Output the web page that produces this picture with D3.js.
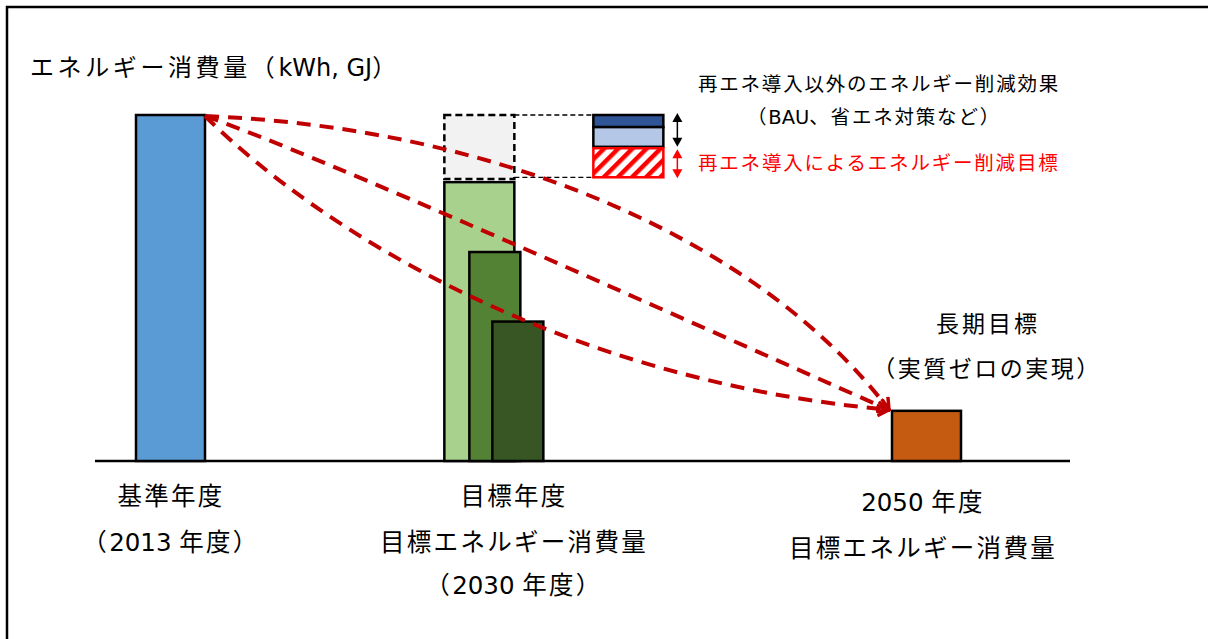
<!DOCTYPE html>
<html><head><meta charset="utf-8">
<script src="https://cdn.jsdelivr.net/npm/d3@7/dist/d3.min.js"></script>
<style>
html,body{margin:0;padding:0;background:#fff;}
svg text{font-family:"Noto Sans CJK JP","Noto Sans",sans-serif;}
</style></head>
<body>
<svg id="chart" width="1208" height="639"></svg>
<script>
// ---- data ----
const categories = ["基準年度", "目標年度", "2050 年度"];
const years = [2013, 2030, 2050];
const baseValue = [100];                     // 2013 energy consumption (index)
const target2030Values = [80.6, 60.4, 40.3]; // 2030 target scenarios
const target2050Value = [14.5];              // 2050 long term target
const otherReduction = [[100, 96.5], [96.5, 90.8]]; // BAU / energy saving
const renewableReduction = [[90.4, 82]];            // renewable reduction
const yAxisTitle = "エネルギー消費量（kWh, GJ）";
const labelLines = [
  ["基準年度", "（2013 年度）"],
  ["目標年度", "目標エネルギー消費量", "（2030 年度）"],
  ["2050 年度", "目標エネルギー消費量"]
];
const legendOther = ["再エネ導入以外のエネルギー削減効果", "（BAU、省エネ対策など）"];
const legendRenew = "再エネ導入によるエネルギー削減目標";
const longTerm = ["長期目標", "（実質ゼロの実現）"];

// ---- scales ----
const svg = d3.select("#chart");
const x = d3.scaleLinear().domain([2013, 2050]).range([170, 926]);
const y = d3.scaleLinear().domain([0, 100]).range([461, 115]);

// text helper: ASCII runs in a wide latin face, CJK with extra spacing
function txt(xp, yp, s, size, ls, anchor, col) {
  const t = svg.append("text").attr("x", xp).attr("y", yp).attr("font-size", size)
    .attr("text-anchor", anchor || "start").attr("fill", col || "#000")
    .attr("xml:space", "preserve");
  const runs = s.match(/[\x20-\x7E]+|[^\x20-\x7E]+/g);
  runs.forEach(r => {
    const ascii = /^[\x20-\x7E]+$/.test(r);
    t.append("tspan").text(r)
      .attr("font-family", ascii ? "'DejaVu Sans',Verdana,sans-serif" : "'Noto Sans CJK JP',sans-serif")
      .attr("letter-spacing", ascii ? 0 : ls);
  });
  return t;
}

// frame
svg.append("path").attr("d", "M7,639 V7 H1208").attr("fill", "none")
  .attr("stroke", "#000").attr("stroke-width", 2.5);

// hatch pattern
const defs = svg.append("defs");
const pat = defs.append("pattern").attr("id", "hatch").attr("patternUnits", "userSpaceOnUse")
  .attr("width", 10).attr("height", 10).attr("patternTransform", "rotate(45)");
pat.append("rect").attr("width", 10).attr("height", 10).attr("fill", "#fff");
pat.append("rect").attr("x", 0).attr("width", 4.5).attr("height", 10).attr("fill", "#FF0000");

// arrow marker
defs.append("marker").attr("id", "redHead").attr("viewBox", "-12 -8 14 16")
  .attr("refX", 0).attr("refY", 0).attr("markerWidth", 14).attr("markerHeight", 16)
  .attr("markerUnits", "userSpaceOnUse").attr("orient", "auto")
  .append("path").attr("d", "M-11,-7 L0,0 L-11,7").attr("fill", "none")
  .attr("stroke", "#C00000").attr("stroke-width", 3.5);

// title
txt(30, 76, yAxisTitle, 24, 3.6);

// baseline
svg.append("line").attr("x1", 95).attr("x2", 1070).attr("y1", y(0)).attr("y2", y(0))
  .attr("stroke", "#000").attr("stroke-width", 2.5);

// base bar
svg.append("rect").attr("x", x(years[0]) - 34).attr("width", 69)
  .attr("y", y(baseValue[0])).attr("height", y(0) - y(baseValue[0]))
  .attr("fill", "#5B9BD5").attr("stroke", "#000").attr("stroke-width", 2.5);

// 2030 grey dashed box (reduction area)
const bx = x(years[1]) - 73;
svg.append("rect").attr("x", bx).attr("width", 70)
  .attr("y", y(baseValue[0])).attr("height", y(target2030Values[0]) - y(baseValue[0]) - 3)
  .attr("fill", "#F2F2F2").attr("stroke", "#000").attr("stroke-width", 2.5).attr("stroke-dasharray", "7,4");
// thin dashed guides
[baseValue[0], renewableReduction[0][1]].forEach(v => {
  svg.append("line").attr("x1", bx + 70).attr("x2", bx + 149)
    .attr("y1", y(v)).attr("y2", y(v))
    .attr("stroke", "#000").attr("stroke-width", 1.3).attr("stroke-dasharray", "5,3");
});

// 2030 bars
const greens = ["#A9D18E", "#548235", "#375623"];
const offs = [[-73, 70], [-48, 51], [-25, 51]];
target2030Values.forEach((v, i) => {
  svg.append("rect").attr("x", x(years[1]) + offs[i][0]).attr("width", offs[i][1])
    .attr("y", y(v)).attr("height", y(0) - y(v))
    .attr("fill", greens[i]).attr("stroke", "#000").attr("stroke-width", 2.5);
});

// legend stack
const lx = bx + 149;
const blues = ["#2F5597", "#B4C7E7"];
otherReduction.forEach((d, i) => {
  svg.append("rect").attr("x", lx).attr("width", 70)
    .attr("y", y(d[0])).attr("height", y(d[1]) - y(d[0]))
    .attr("fill", blues[i]).attr("stroke", "#000").attr("stroke-width", 2.5);
});
renewableReduction.forEach(d => {
  svg.append("rect").attr("x", lx).attr("width", 70)
    .attr("y", y(d[0])).attr("height", y(d[1]) - y(d[0]))
    .attr("fill", "url(#hatch)").attr("stroke", "#FF0000").attr("stroke-width", 2.5);
});

// double arrows
function dbl(xc, y1, y2, col) {
  const g = svg.append("g");
  g.append("line").attr("x1", xc).attr("x2", xc).attr("y1", y1 + 6).attr("y2", y2 - 6)
    .attr("stroke", col).attr("stroke-width", 1.5);
  g.append("path").attr("d", `M${xc - 5},${y1 + 9} L${xc},${y1} L${xc + 5},${y1 + 9} Z`).attr("fill", col);
  g.append("path").attr("d", `M${xc - 5},${y2 - 9} L${xc},${y2} L${xc + 5},${y2 - 9} Z`).attr("fill", col);
}
dbl(lx + 84, y(otherReduction[0][0]) - 2, y(otherReduction[1][1]), "#000");
dbl(lx + 84, y(renewableReduction[0][0]) + 1, y(renewableReduction[0][1]) + 1, "#FF0000");

// legend text
txt(879, 91, legendOther[0], 19.5, 1.8, "middle");
txt(874, 124, legendOther[1], 19.5, 1.8, "middle");
txt(698, 170, legendRenew, 19.5, 1.8, "start", "#FF0000");

// 2050 bar
svg.append("rect").attr("x", x(years[2]) - 34).attr("width", 69)
  .attr("y", y(target2050Value[0])).attr("height", y(0) - y(target2050Value[0]))
  .attr("fill", "#C55A11").attr("stroke", "#000").attr("stroke-width", 2.5);

// long term text
txt(988, 332, longTerm[0], 23, 3, "middle");
txt(987, 377, longTerm[1], 23, 2.5, "middle");

// red dashed curves
const p0 = [x(years[0]) + 35, y(baseValue[0]) + 1];
const p1 = [x(years[2]) - 37, y(target2050Value[0]) - 1];
const ctrls = [[[500, 128], [760, 240]], [[330, 160], [640, 300]], [[320, 230], [560, 380]]];
ctrls.forEach(c => {
  const path = d3.path();
  path.moveTo(p0[0], p0[1]);
  path.bezierCurveTo(c[0][0], c[0][1], c[1][0], c[1][1], p1[0], p1[1]);
  svg.append("path").attr("d", path.toString()).attr("fill", "none")
    .attr("stroke", "#C00000").attr("stroke-width", 4).attr("stroke-dasharray", "14,9")
    .attr("marker-end", "url(#redHead)");
});

// category labels
const lineYs = [[505, 551], [505, 551, 594], [511, 557]];
const centers = [171, 514, 923];
labelLines.forEach((lines, i) => {
  lines.forEach((t, j) => {
    txt(centers[i], lineYs[i][j], t, 24.5, 2.3, "middle");
  });
});
</script>
</body></html>
